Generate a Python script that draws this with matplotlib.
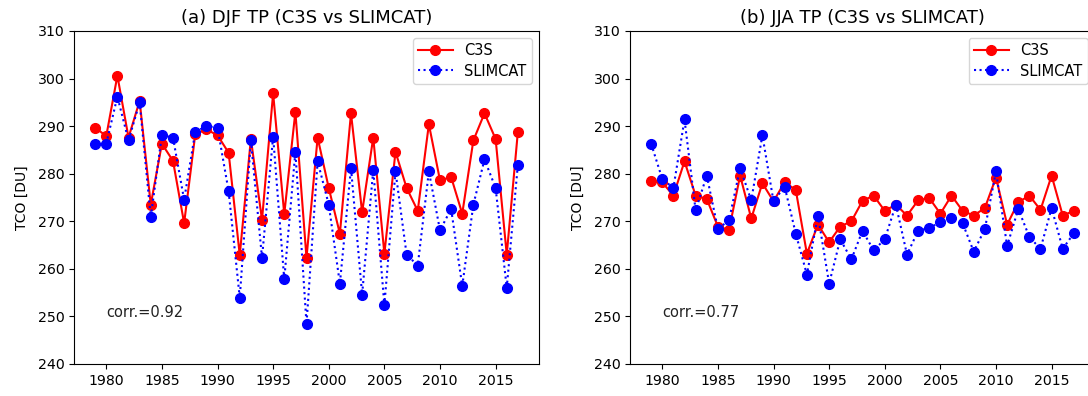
import numpy as np
import matplotlib
matplotlib.use('Agg')
import matplotlib.pyplot as plt

years = np.arange(1979, 2018)

# DJF tropical total column ozone [DU]
djf_c3s = [289.7, 287.9, 300.6, 287.6, 295.3, 273.5, 286.3, 282.7, 269.6, 288.3,
           289.3, 288.1, 284.4, 262.9, 287.3, 270.3, 296.9, 271.5, 293.0, 262.3,
           287.6, 277.0, 267.4, 292.7, 271.9, 287.6, 263.2, 284.6, 277.0, 272.2,
           290.4, 278.6, 279.3, 271.6, 287.0, 292.7, 287.3, 263.0, 288.8]
djf_slimcat = [286.3, 286.3, 296.2, 287.0, 295.0, 270.9, 288.1, 287.6, 274.5, 288.8,
               290.0, 289.7, 276.3, 253.9, 287.0, 262.3, 287.8, 257.8, 284.6, 248.4,
               282.6, 273.5, 256.9, 281.2, 254.6, 280.8, 252.4, 280.5, 263.0, 260.7,
               280.5, 268.1, 272.6, 256.4, 273.5, 283.0, 277.0, 256.0, 281.9]

# JJA tropical total column ozone [DU]
jja_c3s = [278.5, 278.2, 275.4, 282.6, 275.4, 274.7, 268.9, 268.2, 279.6, 270.6,
           278.0, 274.2, 278.2, 276.6, 263.2, 269.3, 265.6, 268.9, 270.0, 274.3,
           275.4, 272.2, 273.5, 271.2, 274.4, 274.9, 271.6, 275.4, 272.2, 271.2,
           272.8, 279.2, 269.3, 274.0, 275.4, 272.4, 279.6, 271.2, 272.2]
jja_slimcat = [286.3, 278.9, 277.0, 291.4, 272.3, 279.6, 268.4, 270.2, 281.2, 274.4,
               288.1, 274.2, 277.3, 267.4, 258.8, 271.2, 256.9, 266.2, 262.0, 268.0,
               263.9, 266.2, 273.5, 263.0, 268.0, 268.6, 269.8, 270.6, 269.6, 263.6,
               268.4, 280.5, 264.8, 272.6, 266.7, 264.2, 272.8, 264.2, 267.5]

titles = ['(a) DJF TP (C3S vs SLIMCAT)', '(b) JJA TP (C3S vs SLIMCAT)']
corrs = ['corr.=0.92', 'corr.=0.77']

W, H = 1088, 396
fig = plt.figure(figsize=(W / 100, H / 100), dpi=100)
ax1 = fig.add_axes([74 / W, 32 / H, 465 / W, 333 / H])
ax2 = fig.add_axes([630 / W, 32 / H, 465 / W, 333 / H])

for ax, c3s, slim, title, corr in zip([ax1, ax2], [djf_c3s, jja_c3s],
                                      [djf_slimcat, jja_slimcat], titles, corrs):
    ax.plot(years, c3s, 'r-o', lw=1.5, ms=7, label='C3S')
    ax.plot(years, slim, 'b:o', lw=1.5, ms=7, label='SLIMCAT')
    ax.set_ylim(240, 310)
    ax.set_xticks([1980, 1985, 1990, 1995, 2000, 2005, 2010, 2015])
    ax.set_ylabel('TCO [DU]', fontsize=10, labelpad=6)
    ax.set_title(title, fontsize=13)
    ax.tick_params(labelsize=10.2)
    ax.text(1980, 250.8, corr, fontsize=10.5, va='center', color='#222222')
    ax.legend(loc='upper right', fontsize=10.5, handlelength=2.4, labelspacing=0.35,
              borderpad=0.35)

fig.savefig('out.png', dpi=100)
